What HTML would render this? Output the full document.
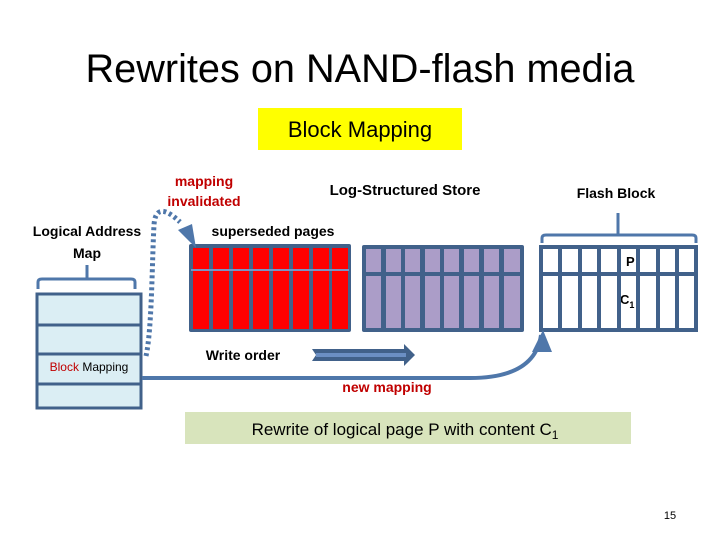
<!DOCTYPE html>
<html><head><style>body{margin:0;background:#fff}svg{display:block}</style></head><body>
<svg width="720" height="540" xmlns="http://www.w3.org/2000/svg" font-family="Liberation Sans, sans-serif">
<text x="360" y="82" font-size="40" text-anchor="middle" textLength="549" lengthAdjust="spacingAndGlyphs">Rewrites on NAND-flash media</text>
<rect x="258" y="108" width="204" height="42" fill="#ffff00"/>
<text x="360" y="137" font-size="22" text-anchor="middle">Block Mapping</text>
<g font-weight="bold" font-size="14">
<text x="204" y="186" fill="#c00000" text-anchor="middle">mapping</text>
<text x="204" y="206" fill="#c00000" text-anchor="middle">invalidated</text>
<text x="405" y="195" text-anchor="middle" font-size="15">Log-Structured Store</text>
<text x="616" y="198" text-anchor="middle">Flash Block</text>
<text x="87" y="236" text-anchor="middle">Logical Address</text>
<text x="87" y="258" text-anchor="middle">Map</text>
<text x="273" y="236" text-anchor="middle">superseded pages</text>
<text x="243" y="360" text-anchor="middle">Write order</text>
<text x="387" y="392" fill="#c00000" text-anchor="middle">new mapping</text>
<text x="626" y="266" font-size="13">P</text>
<text x="620" y="304" font-size="13">C<tspan font-size="9" dy="4">1</tspan></text>
</g>
<!-- red block -->
<rect x="189" y="244" width="162" height="88" fill="#41618a" rx="2"/>
<g fill="#ff0000">
<rect x="193" y="248" width="16" height="81"/><rect x="213" y="248" width="16" height="81"/><rect x="233" y="248" width="16" height="81"/><rect x="253" y="248" width="16" height="81"/><rect x="273" y="248" width="16" height="81"/><rect x="293" y="248" width="16" height="81"/><rect x="313" y="248" width="16" height="81"/><rect x="332" y="248" width="16" height="81"/>
</g>
<rect x="191" y="269" width="158" height="2" fill="#7d93c2"/>
<!-- purple block -->
<rect x="362" y="245" width="162" height="87" fill="#41618a" rx="2"/>
<g fill="#ab9dc8">
<rect x="366" y="249" width="15" height="23"/><rect x="386" y="249" width="15" height="23"/><rect x="405" y="249" width="15" height="23"/><rect x="425" y="249" width="15" height="23"/><rect x="444" y="249" width="15" height="23"/><rect x="464" y="249" width="15" height="23"/><rect x="484" y="249" width="15" height="23"/><rect x="504" y="249" width="16" height="23"/>
<rect x="366" y="276" width="15" height="52"/><rect x="386" y="276" width="15" height="52"/><rect x="405" y="276" width="15" height="52"/><rect x="425" y="276" width="15" height="52"/><rect x="444" y="276" width="15" height="52"/><rect x="464" y="276" width="15" height="52"/><rect x="484" y="276" width="15" height="52"/><rect x="504" y="276" width="16" height="52"/>
</g>
<!-- flash block -->
<g fill="none" stroke="#41618a" stroke-width="4">
<rect x="541" y="247" width="155" height="83"/>
<line x1="541" y1="274" x2="696" y2="274"/>
<line x1="560" y1="247" x2="560" y2="330"/><line x1="580" y1="247" x2="580" y2="330"/><line x1="599" y1="247" x2="599" y2="330"/><line x1="619" y1="247" x2="619" y2="330"/><line x1="638" y1="247" x2="638" y2="330"/><line x1="658" y1="247" x2="658" y2="330"/><line x1="677" y1="247" x2="677" y2="330"/>
</g>
<!-- brackets -->
<g fill="none" stroke="#4f77aa" stroke-width="3">
<path d="M542 243 V238 Q542 235 546 235 H618 V213 M618 235 H692 Q696 235 696 238 V243"/>
<path d="M38 289 V282 Q38 279 42 279 H87 V265 M87 279 H131 Q135 279 135 282 V289"/>
</g>
<!-- logical map -->
<rect x="37" y="294" width="104" height="114" fill="#dbeef4" stroke="#41618a" stroke-width="3"/>
<g stroke="#41618a" stroke-width="3"><line x1="37" y1="325" x2="141" y2="325"/><line x1="37" y1="354" x2="141" y2="354"/><line x1="37" y1="384" x2="141" y2="384"/></g>
<text x="89" y="371" font-size="12" text-anchor="middle"><tspan fill="#c00000">Block</tspan> Mapping</text>
<!-- dotted line -->
<path d="M146 356 C152 330 152 260 154 225 C155 210 162 205 180 222" fill="none" stroke="#4f77aa" stroke-width="5" stroke-dasharray="3 3"/>
<polygon points="178,230 192,224 196,248" fill="#4f77aa"/>
<!-- new mapping line -->
<path d="M142 378 H470 Q535 378 541 335" fill="none" stroke="#4f77aa" stroke-width="4"/>
<polygon points="532,352 552,352 543,330" fill="#4f77aa"/>
<!-- write order arrow -->
<polygon points="312,349 404,349 404,344 415,355 404,366 404,361 312,361 316,355" fill="#41618a"/>
<polygon points="316,353 406,353 406,357 316,357" fill="#6b8fc4"/>
<!-- green box -->
<rect x="185" y="412" width="446" height="32" fill="#d8e4bc"/>
<text x="405" y="435" font-size="17" text-anchor="middle">Rewrite of logical page P with content C<tspan font-size="12" dy="4">1</tspan></text>
<text x="670" y="519" font-size="11" text-anchor="middle">15</text>
</svg>
</body></html>
